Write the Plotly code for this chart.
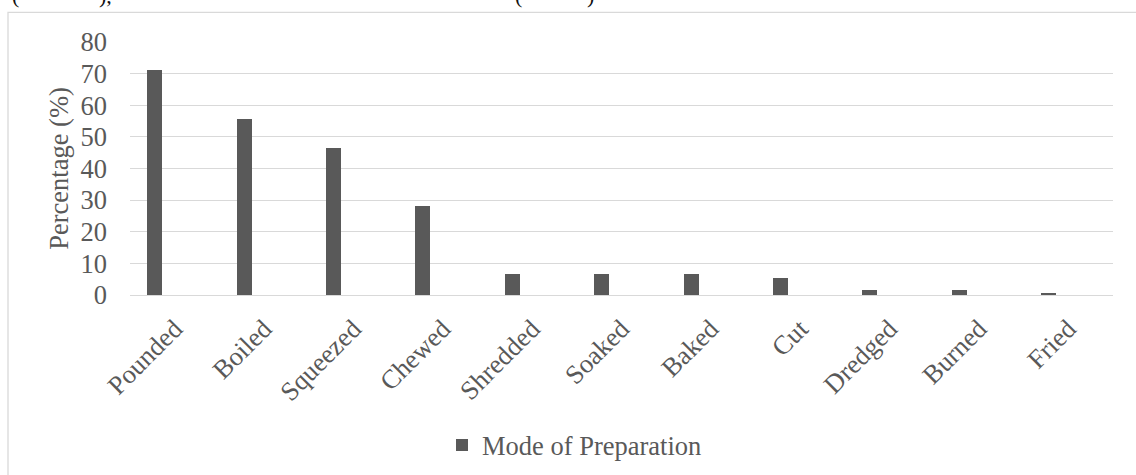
import plotly.graph_objects as go

categories = ["Pounded", "Boiled", "Squeezed", "Chewed", "Shredded", "Soaked",
              "Baked", "Cut", "Dredged", "Burned", "Fried"]
values = [71, 55.8, 46.6, 28, 6.8, 6.5, 6.5, 5.5, 1.7, 1.5, 0.7]
series_name = "Mode of Preparation"
y_ticks = [0, 10, 20, 30, 40, 50, 60, 70, 80]
# fragments of the cut-off text line above the chart
top_fragments = ["(", "),", "(", ")"]
top_fragment_px = [15, 105, 518, 590]

W, H = 1136, 475
L, R, T, B = 130, 1113, 41.7, 295.3
pw, ph = R - L, B - T

def px_x(p):
    return (p - L) / pw

def px_y(p):
    return (B - p) / ph

FONT = "Liberation Serif, Times New Roman, serif"
GREY = "#595959"
FS = 26.5

fig = go.Figure()
fig.add_bar(x=categories, y=values, name=series_name,
            marker=dict(color=GREY, line=dict(width=0)),
            width=0.168, offset=-0.306, showlegend=True)

fig.update_layout(
    width=W, height=H,
    margin=dict(l=L, r=W - R, t=T, b=H - B, pad=0, autoexpand=False),
    paper_bgcolor="white", plot_bgcolor="white",
    font=dict(family=FONT, size=FS, color=GREY),
    showlegend=True,
    legend=dict(orientation="h", x=px_x(442), xanchor="left",
                y=px_y(446), yanchor="middle",
                font=dict(family=FONT, size=FS, color=GREY),
                bgcolor="rgba(0,0,0,0)"),
    bargap=0,
)
fig.update_xaxes(type="category", range=[-0.5, 10.5], showgrid=False,
                 showline=False, zeroline=False, ticks="", tickangle=-45,
                 ticklabelstandoff=12, automargin=False,
                 tickfont=dict(family=FONT, size=FS, color=GREY))
fig.update_yaxes(range=[0, 80], tickvals=y_ticks, showgrid=True,
                 gridcolor="#d9d9d9", gridwidth=1.3, zeroline=True,
                 zerolinecolor="#d9d9d9", zerolinewidth=1.3, automargin=False,
                 showline=False, ticks="", ticklabelstandoff=22,
                 tickfont=dict(family=FONT, size=FS, color=GREY),
                 title=dict(text="Percentage (%)", standoff=4,
                            font=dict(family=FONT, size=FS, color=GREY)))

fig.add_shape(type="rect", xref="paper", yref="paper",
              x0=px_x(8), x1=px_x(1300), y0=px_y(600), y1=px_y(12),
              line=dict(color="#d9d9d9", width=1.3), fillcolor="rgba(0,0,0,0)",
              layer="below")

for txt, xp in zip(top_fragments, top_fragment_px):
    fig.add_annotation(text=txt, xref="paper", yref="paper",
                       x=px_x(xp), y=px_y(-4.5), xanchor="center",
                       yanchor="middle", showarrow=False,
                       font=dict(family=FONT, size=22, color="#111111"))

fig.write_html("out.html")
